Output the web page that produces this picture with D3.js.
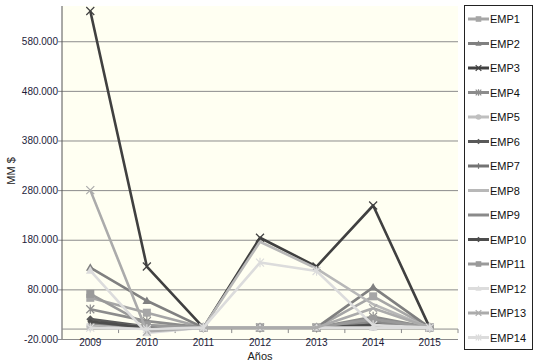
<!DOCTYPE html>
<html>
<head>
<meta charset="utf-8">
<script src="https://cdn.jsdelivr.net/npm/d3@7"></script>
<style>
  body { margin: 0; background: #fff; }
  text { font-family: "Liberation Sans", Arial, sans-serif; }
</style>
</head>
<body>
<script>
// data
var years = ["2009", "2010", "2011", "2012", "2013", "2014", "2015"];
var names = ["EMP1", "EMP2", "EMP3", "EMP4", "EMP5", "EMP6", "EMP7",
             "EMP8", "EMP9", "EMP10", "EMP11", "EMP12", "EMP13", "EMP14"];
var emp1  = [63, 33, 3, 3, 3, 66, 3];
var emp2  = [124, 57, 3, 3, 3, 84, 3];
var emp3  = [641, 126, 3, 184, 126, 249, 3];
var emp4  = [40, 16, 3, 3, 3, 25, 3];
var emp5  = [5, 2, 3, 3, 3, 4, 3];
var emp6  = [20, 5, 3, 3, 3, 12, 3];
var emp7  = [8, 2, 3, 3, 3, 5, 3];
var emp8  = [10, 0, 3, 176, 122, 50, 3];
var emp9  = [12, 5, 3, 3, 3, 15, 3];
var emp10 = [15, 3, 3, 3, 3, 8, 3];
var emp11 = [71, 8, 3, 3, 3, 20, 3];
var emp12 = [118, -8, 3, 3, 3, 3, 3];
var emp13 = [280, -5, 3, 3, 3, 42, 3];
var emp14 = [3, 0, 3, 134, 117, 8, 3];
var yTicks = [-20, 80, 180, 280, 380, 480, 580];

var seriesValues = [emp1, emp2, emp3, emp4, emp5, emp6, emp7,
                    emp8, emp9, emp10, emp11, emp12, emp13, emp14];
var colors = ["#a6a6a6", "#808080", "#404040", "#8c8c8c", "#bfbfbf", "#595959", "#737373",
              "#b8b8b8", "#8a8a8a", "#4d4d4d", "#9a9a9a", "#dcdcdc", "#ababab", "#dcdcdc"];
var markers = ["square", "triangle", "x", "star", "circle", "diamond", "plus",
               "none", "none", "diamond", "square", "triangle", "x", "star"];

var series = names.map(function(n, i) {
    return {name: n, values: seriesValues[i], color: colors[i], marker: markers[i]};
});

var margin = {top: 6, left: 62};
var plotW = 396, plotH = 333;

var svg = d3.select("body").append("svg")
    .attr("width", 536)
    .attr("height", 364);

var g = svg.append("g")
    .attr("transform", "translate(" + margin.left + "," + margin.top + ")");

var x = d3.scaleBand().domain(years).range([0, plotW]);
var y = d3.scaleLinear().domain([-20, 651]).range([plotH, 0]);
var cx = function(d, i) { return x(years[i]) + x.bandwidth() / 2; };

// background
g.append("rect")
    .attr("width", plotW)
    .attr("height", plotH)
    .attr("fill", "#fffff2");

// gridlines + y axis
var yAxis = d3.axisLeft(y).tickValues(yTicks)
    .tickSize(-plotW)
    .tickPadding(4)
    .tickFormat(function(d) { return d.toFixed(3); });

var yAxisGroup = g.append("g").call(yAxis);
yAxisGroup.select(".domain").remove();
yAxisGroup.selectAll(".tick line")
    .attr("x1", -4)
    .attr("stroke", "#8c8c8c");
yAxisGroup.selectAll(".tick text")
    .attr("font-size", "10px")
    .attr("fill", "#1c1c3a")
    .attr("font-family", "Liberation Sans, Arial, sans-serif");

g.append("line")
    .attr("x1", 0).attr("x2", 0)
    .attr("y1", 0).attr("y2", plotH)
    .attr("stroke", "#555");

// zero line with category ticks
g.append("line")
    .attr("x1", 0).attr("x2", plotW)
    .attr("y1", y(0)).attr("y2", y(0))
    .attr("stroke", "#8c8c8c");

g.selectAll(".xtick")
    .data(years.slice(1).concat(["end"]))
    .enter().append("line")
    .attr("class", "xtick")
    .attr("x1", function(d, i) { return x.step() * (i + 1); })
    .attr("x2", function(d, i) { return x.step() * (i + 1); })
    .attr("y1", y(0))
    .attr("y2", y(0) + 4)
    .attr("stroke", "#8c8c8c");

g.selectAll(".xlabel")
    .data(years)
    .enter().append("text")
    .attr("class", "xlabel")
    .attr("x", function(d) { return x(d) + x.bandwidth() / 2; })
    .attr("y", plotH + 7)
    .attr("text-anchor", "middle")
    .attr("font-size", "10px")
    .attr("fill", "#1c1c3a")
    .text(function(d) { return d; });

// axis titles
svg.append("text")
    .attr("x", margin.left + plotW / 2)
    .attr("y", 360)
    .attr("text-anchor", "middle")
    .attr("font-size", "11px")
    .attr("fill", "#222")
    .text("Años");

svg.append("text")
    .attr("transform", "translate(15," + (margin.top + 165) + ") rotate(-90)")
    .attr("text-anchor", "middle")
    .attr("font-size", "11px")
    .attr("fill", "#222")
    .text("MM $");

// markers
function drawMarker(sel, type, color, size) {
    var s = size;
    if (type === "square") {
        sel.append("rect").attr("x", -s).attr("y", -s)
            .attr("width", 2 * s).attr("height", 2 * s).attr("fill", color);
    } else if (type === "triangle") {
        sel.append("path").attr("d", "M0," + (-s * 1.1) + "L" + (s * 1.1) + "," + (s * 0.8) + "L" + (-s * 1.1) + "," + (s * 0.8) + "Z")
            .attr("fill", color);
    } else if (type === "circle") {
        sel.append("circle").attr("r", s).attr("fill", color);
    } else if (type === "diamond") {
        sel.append("path").attr("d", "M0," + (-s) + "L" + s + ",0L0," + s + "L" + (-s) + ",0Z")
            .attr("fill", color);
    } else if (type === "x") {
        sel.append("path").attr("d", "M" + (-s) + "," + (-s) + "L" + s + "," + s + "M" + s + "," + (-s) + "L" + (-s) + "," + s)
            .attr("stroke", color).attr("stroke-width", 1.2).attr("fill", "none");
    } else if (type === "star") {
        sel.append("path").attr("d", "M" + (-s) + "," + (-s) + "L" + s + "," + s + "M" + s + "," + (-s) + "L" + (-s) + "," + s + "M0," + (-s * 1.2) + "L0," + (s * 1.2))
            .attr("stroke", color).attr("stroke-width", 1.2).attr("fill", "none");
    } else if (type === "plus") {
        sel.append("path").attr("d", "M0," + (-s) + "L0," + s)
            .attr("stroke", color).attr("stroke-width", 1.2).attr("fill", "none");
    }
}

var line = d3.line()
    .x(cx)
    .y(function(d) { return y(d); });

var lines = g.selectAll(".series")
    .data(series)
    .enter().append("g")
    .attr("class", "series");

lines.append("path")
    .attr("d", function(d) { return line(d.values); })
    .attr("fill", "none")
    .attr("stroke", function(d) { return d.color; })
    .attr("stroke-width", 2.6)
    .attr("stroke-linejoin", "round");

lines.each(function(s) {
    var grp = d3.select(this);
    s.values.forEach(function(v, i) {
        var m = grp.append("g")
            .attr("transform", "translate(" + cx(v, i) + "," + y(v) + ")");
        drawMarker(m, s.marker, s.color, s.name === "EMP10" ? 3 : 4);
    });
});

// legend
var legend = svg.append("g");
legend.append("rect")
    .attr("x", 464.5).attr("y", 5.5)
    .attr("width", 68).attr("height", 344)
    .attr("fill", "#fff")
    .attr("stroke", "#222");

var items = legend.selectAll(".item")
    .data(series)
    .enter().append("g")
    .attr("class", "item")
    .attr("transform", function(d, i) { return "translate(468," + (19 + i * 24.5) + ")"; });

items.append("line")
    .attr("x1", 0).attr("x2", 21)
    .attr("stroke", function(d) { return d.color; })
    .attr("stroke-width", 3);

items.each(function(s) {
    var m = d3.select(this).append("g").attr("transform", "translate(10.5,0)");
    drawMarker(m, s.marker, s.color, 2.8);
});

items.append("text")
    .attr("x", 22)
    .attr("y", 4)
    .attr("font-size", "11px")
    .attr("fill", "#111")
    .text(function(d) { return d.name; });
</script>
</body>
</html>
